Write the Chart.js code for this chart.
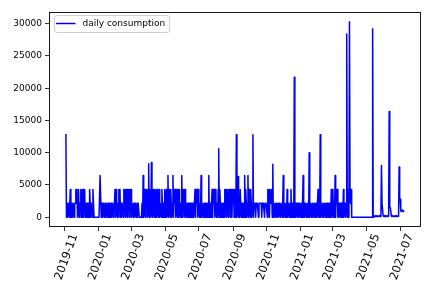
<!DOCTYPE html>
<html>
<head>
<meta charset="utf-8">
<script src="https://cdn.jsdelivr.net/npm/chart.js@4/dist/chart.umd.min.js"></script>
<style>
    body { margin: 0; background: #fff; }
    canvas { display: block; }
</style>
</head>
<body>
<canvas id="consumption" width="432" height="288"></canvas>
<script>
// Consumo diario, un arreglo por mes (el primero empieza el 3 de noviembre)
const nov2019 = [12900, 0, 2150, 0, 2150, 2150, 0, 2150, 4300, 0, 2150, 0, 0, 2150, 2150, 0, 2150, 2150, 4300, 2150, 4300, 0, 2150, 4300, 0, 2150, 2150, 4300];
const dec2019 = [0, 2150, 4300, 0, 4300, 2150, 4300, 0, 2150, 0, 2150, 2150, 0, 2150, 0, 4300, 2150, 0, 2150, 2150, 0, 4300, 2150, 0, 0, 0, 0, 0, 0, 0, 0];
const jan2020 = [0, 0, 0, 6450, 6450, 0, 2150, 2150, 0, 2150, 2150, 0, 2150, 0, 2150, 2150, 0, 2150, 2150, 0, 2150, 0, 2150, 2150, 0, 2150, 2150, 0, 2150, 2150, 4300];
const feb2020 = [0, 4300, 2150, 0, 2150, 0, 4300, 2150, 4300, 0, 2150, 0, 2150, 2150, 0, 4300, 2150, 4300, 0, 4300, 2150, 0, 4300, 2150, 4300, 0, 4300, 2150, 4300];
const mar2020 = [0, 2150, 2150, 0, 2150, 2150, 0, 2150, 2150, 0, 2150, 0, 2150, 2150, 0, 0, 0, 0, 0, 2150, 0, 6450, 0, 2150, 4300, 0, 4300, 2150, 4300, 0, 2150];
const apr2020 = [8300, 0, 4300, 2150, 0, 8500, 2150, 0, 4300, 2150, 0, 4300, 0, 2150, 4300, 0, 4300, 2150, 0, 4300, 0, 2150, 2150, 0, 4300, 2150, 0, 2150, 0, 4300];
const may2020 = [0, 2150, 4300, 0, 2150, 6450, 0, 2150, 4300, 0, 4300, 2150, 0, 2150, 6450, 0, 4300, 2150, 4300, 0, 4300, 2150, 0, 4300, 0, 4300, 2150, 0, 2150, 0, 6450];
const jun2020 = [0, 4300, 2150, 4300, 0, 4300, 2150, 0, 2150, 0, 2150, 2150, 0, 2150, 0, 2150, 2150, 0, 2150, 0, 2150, 0, 2150, 4300, 0, 4300, 2150, 4300, 0, 4300];
const jul2020 = [2150, 0, 2150, 0, 6450, 0, 2150, 2150, 0, 2150, 0, 2150, 2150, 0, 2150, 0, 2150, 0, 6450, 0, 2150, 2150, 0, 2150, 4300, 0, 4300, 2150, 4300, 0, 4300];
const aug2020 = [2150, 0, 2150, 0, 4300, 10600, 0, 4300, 2150, 0, 2150, 0, 2150, 0, 2150, 0, 4300, 2150, 4300, 0, 4300, 4300, 0, 4300, 2150, 4300, 0, 4300, 4300, 0, 4300];
const sep2020 = [2150, 4300, 0, 4300, 2150, 0, 12800, 0, 2150, 6300, 0, 2150, 0, 4300, 4300, 0, 2150, 0, 2150, 2150, 0, 6450, 0, 4300, 2150, 0, 2150, 6450, 0, 4300];
const oct2020 = [2150, 0, 4300, 2150, 0, 2150, 12800, 0, 2150, 2150, 2150, 0, 2150, 2150, 2150, 2150, 0, 2150, 2150, 2150, 2150, 2150, 0, 2150, 2150, 2150, 2150, 0, 2150, 2150, 2150];
const nov2020 = [2150, 0, 4300, 2150, 4300, 0, 4300, 4300, 2150, 4300, 0, 8200, 0, 2150, 0, 0, 2150, 0, 2150, 0, 0, 2150, 0, 2150, 2150, 0, 2150, 2150, 0, 2150];
const dec2020 = [6450, 0, 2150, 2150, 0, 2150, 0, 4300, 0, 2150, 2150, 0, 2150, 0, 4300, 0, 2150, 0, 2150, 0, 21700, 0, 2150, 0, 2150, 2150, 0, 2150, 0, 2150, 2150];
const jan2021 = [0, 2150, 2150, 0, 2150, 6450, 0, 2150, 0, 2150, 2150, 0, 2150, 0, 2150, 0, 10000, 0, 2150, 2150, 0, 2150, 0, 2150, 2150, 0, 2150, 0, 2150, 2150, 0];
const feb2021 = [2150, 4300, 0, 2150, 0, 12800, 0, 2150, 2150, 0, 2150, 0, 2150, 2150, 0, 2150, 0, 2150, 2150, 0, 2150, 0, 2150, 2150, 0, 4300, 0, 2150];
const mar2021 = [4300, 0, 2150, 0, 6450, 0, 4300, 2150, 4300, 0, 2150, 0, 2150, 2150, 0, 2150, 0, 2150, 0, 4300, 0, 2150, 2150, 0, 2150, 28400, 0, 2150, 4300, 0, 30300];
const apr2021 = [4300, 2150, 4300, 0, 0, 0, 0, 0, 0, 0, 0, 0, 0, 0, 0, 0, 0, 0, 0, 0, 0, 0, 0, 0, 0, 0, 0, 0, 0, 0];
const may2021 = [0, 0, 0, 0, 0, 0, 0, 0, 0, 0, 0, 29200, 0, 150, 200, 100, 150, 250, 100, 200, 150, 100, 200, 150, 250, 100, 200, 8000, 2150, 2150, 200];
const jun2021 = [150, 100, 250, 200, 100, 200, 250, 100, 200, 150, 16400, 1500, 1500, 1500, 200, 100, 250, 150, 200, 100, 150, 250, 100, 200, 150, 100, 200, 150, 7800, 2800];
const jul2021 = [2800, 1000, 900, 1000, 1100, 1000, 900, 1000];

const monthStarts = ["2019-11-03", "2019-12-01", "2020-01-01", "2020-02-01", "2020-03-01", "2020-04-01",
    "2020-05-01", "2020-06-01", "2020-07-01", "2020-08-01", "2020-09-01", "2020-10-01", "2020-11-01",
    "2020-12-01", "2021-01-01", "2021-02-01", "2021-03-01", "2021-04-01", "2021-05-01", "2021-06-01", "2021-07-01"];
const monthValues = [nov2019, dec2019, jan2020, feb2020, mar2020, apr2020, may2020, jun2020, jul2020, aug2020,
    sep2020, oct2020, nov2020, dec2020, jan2021, feb2021, mar2021, apr2021, may2021, jun2021, jul2021];

const tickLabels = ["2019-11", "2020-01", "2020-03", "2020-05", "2020-07", "2020-09", "2020-11", "2021-01", "2021-03", "2021-05", "2021-07"];
const yTicks = [0, 5000, 10000, 15000, 20000, 25000, 30000];

const origin = Date.UTC(2019, 10, 1);
function dayIndex(iso) {
    const [y, m, d] = iso.split("-").map(Number);
    return Math.round((Date.UTC(y, m - 1, d || 1) - origin) / 864e5);
}

const points = [];
monthValues.forEach((values, i) => {
    const first = dayIndex(monthStarts[i]);
    values.forEach((v, j) => points.push({ x: first + j, y: v }));
});

const tickDays = tickLabels.map(label => dayIndex(label + "-01"));
const xFirst = points[0].x, xLast = points[points.length - 1].x;
const xSpan = xLast - xFirst;
const yMax = Math.max(...points.map(p => p.y));
const font = "'DejaVu Sans', sans-serif";

// marco del area de datos (como los ejes de matplotlib)
const frame = {
    id: "frame",
    afterDraw(chart) {
        const { ctx, chartArea: a } = chart;
        ctx.save();
        ctx.strokeStyle = "#000";
        ctx.lineWidth = 0.9;
        ctx.strokeRect(a.left + 0.5, a.top + 0.5, a.right - a.left - 1, a.bottom - a.top - 1);
        ctx.restore();
    }
};

// leyenda con caja, dentro del area de datos
const boxedLegend = {
    id: "boxedLegend",
    afterDraw(chart) {
        const { ctx, chartArea: a } = chart;
        const ds = chart.data.datasets[0];
        const x = a.left + 5.5, y = a.top + 3.5, w = 115, h = 17;
        ctx.save();
        ctx.beginPath();
        ctx.roundRect(x, y, w, h, 2.5);
        ctx.fillStyle = "rgba(255,255,255,0.8)";
        ctx.fill();
        ctx.strokeStyle = "#cccccc";
        ctx.lineWidth = 1;
        ctx.stroke();
        ctx.beginPath();
        ctx.moveTo(x + 1.5, y + 8);
        ctx.lineTo(x + 21, y + 8);
        ctx.strokeStyle = ds.borderColor;
        ctx.lineWidth = 1.5;
        ctx.stroke();
        ctx.fillStyle = "#000";
        ctx.font = "9px " + font;
        ctx.textBaseline = "middle";
        ctx.fillText(ds.label, x + 28, y + 8.5);
        ctx.restore();
    }
};

new Chart(document.getElementById("consumption"), {
    type: "line",
    data: {
        datasets: [{
            label: "daily consumption",
            data: points,
            borderColor: "#0000ff",
            borderWidth: 1.5,
            borderJoinStyle: "round",
            pointRadius: 0,
            tension: 0
        }]
    },
    options: {
        responsive: false,
        animation: false,
        devicePixelRatio: 1,
        layout: { padding: { top: 12, right: 11, left: 0, bottom: 0 } },
        plugins: { legend: { display: false }, tooltip: { enabled: false } },
        scales: {
            x: {
                type: "linear",
                bounds: "data",
                min: xFirst - 0.05 * xSpan,
                max: xLast + 0.05 * xSpan,
                afterBuildTicks: scale => { scale.ticks = tickDays.map(v => ({ value: v })); },
                afterFit: scale => { scale.height = 61; },
                border: { display: false },
                grid: { drawOnChartArea: false, color: "#000", lineWidth: 0.8, tickLength: 4 },
                ticks: {
                    autoSkip: false,
                    minRotation: 70,
                    maxRotation: 70,
                    padding: 1,
                    labelOffset: 10,
                    color: "#000",
                    font: { family: font, size: 11.5 },
                    callback: (value, index) => tickLabels[index]
                }
            },
            y: {
                type: "linear",
                bounds: "data",
                min: -0.05 * yMax,
                max: 1.05 * yMax,
                afterBuildTicks: scale => { scale.ticks = yTicks.map(v => ({ value: v })); },
                afterFit: scale => { scale.width = 49; },
                border: { display: false },
                grid: { drawOnChartArea: false, color: "#000", lineWidth: 0.8, tickLength: 4 },
                ticks: {
                    padding: 3,
                    color: "#000",
                    font: { family: font, size: 9 },
                    callback: value => String(value)
                }
            }
        }
    },
    plugins: [frame, boxedLegend]
});
</script>
</body>
</html>
